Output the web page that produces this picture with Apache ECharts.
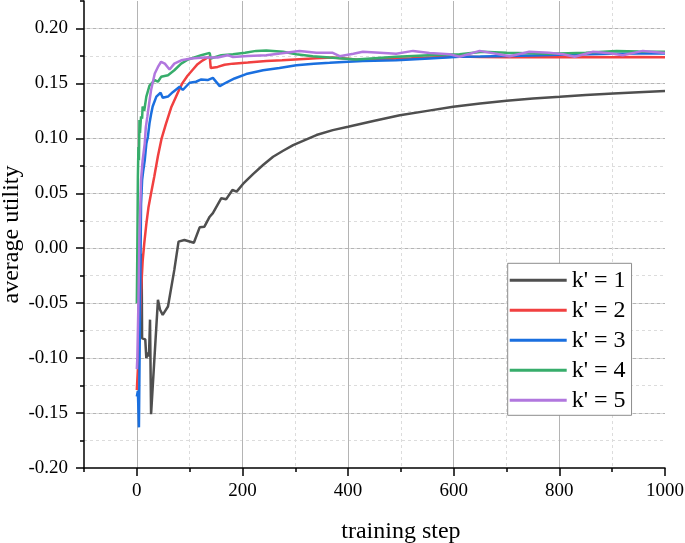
<!DOCTYPE html>
<html>
<head>
<meta charset="utf-8">
<script src="https://cdn.jsdelivr.net/npm/echarts@6/dist/echarts.min.js"></script>
<style>
html,body{margin:0;padding:0;background:#fff;}
#c{width:685px;height:543px;}
</style>
</head>
<body>
<div id="c"></div>
<script>
// ---- data ----
const seriesNames = ["k' = 1", "k' = 2", "k' = 3", "k' = 4", "k' = 5"];
const seriesColors = ['#4f4f4f', '#F14040', '#1A6FDF', '#37AD6B', '#B177DE'];

const k1 = [[9,-0.005],[10,-0.082],[16,-0.083],[18,-0.100],[21,-0.095],[23,-0.0985],[25,-0.065],[27,-0.151],[40,-0.047],[44,-0.056],[49,-0.0606],[59,-0.053],[71,-0.0197],[79,0.006],[90,0.0075],[108,0.005],[119,0.019],[128,0.0196],[138,0.0287],[144,0.032],[160,0.0455],[169,0.0445],[181,0.053],[189,0.0515],[201,0.0585],[220,0.0675],[239,0.0757],[258,0.0833],[277,0.0887],[296,0.0939],[340,0.103],[371,0.1075],[400,0.1105],[450,0.116],[498,0.121],[550,0.125],[599,0.1287],[650,0.1317],[700,0.1342],[750,0.1362],[801,0.1378],[850,0.1395],[902,0.1409],[950,0.142],[1000,0.143]];

const k2 = [[0,-0.129],[2,-0.11],[5,-0.075],[8,-0.04],[11,-0.012],[14,0.004],[18,0.022],[22,0.037],[27,0.05],[33,0.065],[40,0.084],[47,0.1],[55,0.113],[65,0.128],[78,0.142],[86,0.15],[96,0.157],[105,0.162],[115,0.1675],[125,0.171],[132,0.173],[138,0.1745],[140,0.164],[153,0.165],[166,0.167],[182,0.168],[210,0.169],[245,0.1705],[275,0.171],[308,0.172],[340,0.1728],[371,0.1736],[400,0.1725],[428,0.171],[460,0.1718],[491,0.1727],[520,0.173],[554,0.1736],[611,0.1745],[650,0.174],[700,0.1738],[750,0.174],[800,0.1738],[850,0.174],[900,0.1738],[950,0.174],[1000,0.1738]];

const k3 = [[0,-0.135],[2,-0.13],[4,-0.163],[6,-0.06],[8,0.04],[10,0.062],[12,0.07],[15,0.08],[18,0.095],[21,0.1015],[24,0.1136],[27,0.122],[30,0.129],[37,0.138],[45,0.1415],[49,0.137],[59,0.138],[68,0.142],[81,0.147],[87,0.144],[100,0.1506],[112,0.1515],[122,0.1536],[134,0.153],[144,0.155],[157,0.1475],[172,0.1515],[185,0.1545],[207,0.1585],[239,0.162],[270,0.164],[302,0.1666],[335,0.168],[365,0.1687],[400,0.1697],[428,0.1705],[491,0.171],[554,0.1727],[611,0.1742],[650,0.1745],[700,0.175],[750,0.1755],[800,0.176],[850,0.1765],[900,0.177],[950,0.1772],[1000,0.1773]];

const k4 = [[0,-0.05],[1,0.0],[2,0.065],[3,0.092],[4,0.08],[5,0.1166],[6,0.105],[8,0.12],[10,0.118],[11,0.129],[14,0.125],[18,0.138],[24,0.148],[34,0.153],[40,0.1515],[46,0.156],[59,0.1575],[71,0.162],[84,0.168],[97,0.1718],[109,0.1736],[122,0.1757],[138,0.1778],[140,0.1727],[160,0.1757],[182,0.1766],[205,0.178],[226,0.1796],[245,0.18],[277,0.1788],[302,0.1766],[333,0.1748],[365,0.1736],[415,0.1718],[450,0.173],[491,0.1742],[554,0.1757],[611,0.1766],[655,0.1788],[700,0.178],[782,0.177],[850,0.178],[908,0.1796],[950,0.179],[1000,0.1788]];

const k5 = [[0,-0.11],[1,-0.1],[3,-0.05],[5,0.01],[8,0.062],[11,0.08],[15,0.0955],[17,0.11],[20,0.12],[24,0.134],[27,0.144],[34,0.159],[40,0.165],[46,0.1697],[53,0.168],[62,0.1627],[71,0.168],[84,0.171],[103,0.1727],[128,0.1736],[153,0.1736],[172,0.1757],[182,0.174],[210,0.175],[245,0.1757],[275,0.1775],[308,0.1796],[340,0.178],[371,0.1778],[384,0.1748],[410,0.177],[428,0.1788],[460,0.178],[491,0.177],[523,0.1796],[554,0.1776],[592,0.1766],[611,0.1742],[649,0.1796],[680,0.177],[706,0.1748],[743,0.1788],[780,0.178],[807,0.1766],[829,0.1742],[864,0.1788],[895,0.1775],[920,0.1757],[958,0.1796],[1000,0.1776]];

const seriesData = [k1, k2, k3, k4, k5];

// axis ranges
const xMin = -100, xMax = 1000;
const yMin = -0.2, yMax = 0.225;

// ---- chart ----
const FONT = 'Liberation Serif';
const gridLeft = 84, gridRight = 20, gridTop = 1, gridBottom = 75;
const plotW = 685 - gridLeft - gridRight;
const zeroLeft = gridLeft + (0 - xMin) / (xMax - xMin) * plotW;

const chart = echarts.init(document.getElementById('c'));
const blackAxis = { color: '#000', width: 1.5 };

chart.setOption({
  animation: false,
  backgroundColor: '#fff',
  grid: [
    { left: gridLeft, right: gridRight, top: gridTop, bottom: gridBottom, outerBoundsMode: 'none', containLabel: false },
    { left: zeroLeft, right: gridRight, top: gridTop, bottom: gridBottom, outerBoundsMode: 'none', containLabel: false }
  ],
  xAxis: [
    {
      gridIndex: 0, type: 'value', min: xMin, max: xMax, interval: 100, position: 'bottom',
      axisLine: { show: true, onZero: false, lineStyle: blackAxis },
      axisTick: { show: true, length: 4, lineStyle: blackAxis },
      axisLabel: { show: false },
      splitLine: { show: true, showMinLine: false, showMaxLine: false,
        lineStyle: { color: '#dcdcdc', width: 1, type: [3, 3] } }
    },
    {
      gridIndex: 1, type: 'value', min: 0, max: xMax, interval: 200, position: 'bottom',
      axisLine: { show: false, onZero: false },
      axisTick: { show: true, length: 8, lineStyle: blackAxis },
      axisLabel: { color: '#000', fontFamily: FONT, fontSize: 19, margin: 14,
        formatter: v => String(v) },
      splitLine: { show: true, showMaxLine: false,
        lineStyle: { color: '#b4b4b4', width: 1 } },
      name: 'training step', nameLocation: 'middle', nameGap: 52, nameMoveOverlap: false,
      nameTextStyle: { color: '#000', fontFamily: FONT, fontSize: 24 }
    }
  ],
  yAxis: [
    {
      gridIndex: 0, type: 'value', min: yMin, max: yMax, interval: 0.05, position: 'left',
      axisLine: { show: true, onZero: false, lineStyle: blackAxis },
      axisTick: { show: true, length: 8, lineStyle: blackAxis },
      axisLabel: { color: '#000', fontFamily: FONT, fontSize: 19, margin: 16,
        showMaxLabel: false, formatter: v => v.toFixed(2) },
      splitLine: { show: true, showMinLine: false, showMaxLine: false,
        lineStyle: { color: '#b4b4b4', width: 1 } },
      name: 'average utility', nameLocation: 'middle', nameGap: 60, nameMoveOverlap: false,
      nameTextStyle: { color: '#000', fontFamily: FONT, fontSize: 24 }
    },
    {
      gridIndex: 0, type: 'value', min: yMin, max: yMax, interval: 0.025, position: 'left',
      axisLine: { show: false, onZero: false },
      axisTick: { show: true, length: 4, lineStyle: blackAxis },
      axisLabel: { show: false },
      splitLine: { show: true, showMinLine: false, showMaxLine: false,
        lineStyle: { color: '#dcdcdc', width: 1, type: [3, 3] } }
    },
    {
      gridIndex: 1, type: 'value', min: yMin, max: yMax, show: false
    }
  ],
  legend: {
    orient: 'vertical', left: 507.7, top: 263.3,
    data: seriesNames,
    icon: 'rect',
    itemWidth: 57, itemHeight: 3, itemGap: 6,
    padding: [5, 6, 3, 2],
    backgroundColor: '#fff', borderColor: '#8c8c8c', borderWidth: 1,
    textStyle: { color: '#000', fontFamily: FONT, fontSize: 24, lineHeight: 24 }
  },
  series: seriesData.map((d, i) => ({
    name: seriesNames[i], type: 'line', xAxisIndex: 0, yAxisIndex: 0,
    data: d, symbol: 'none', showSymbol: false, smooth: false,
    color: seriesColors[i],
    lineStyle: { color: seriesColors[i], width: 2.5 },
    z: 2 + i
  }))
});
</script>
</body>
</html>
